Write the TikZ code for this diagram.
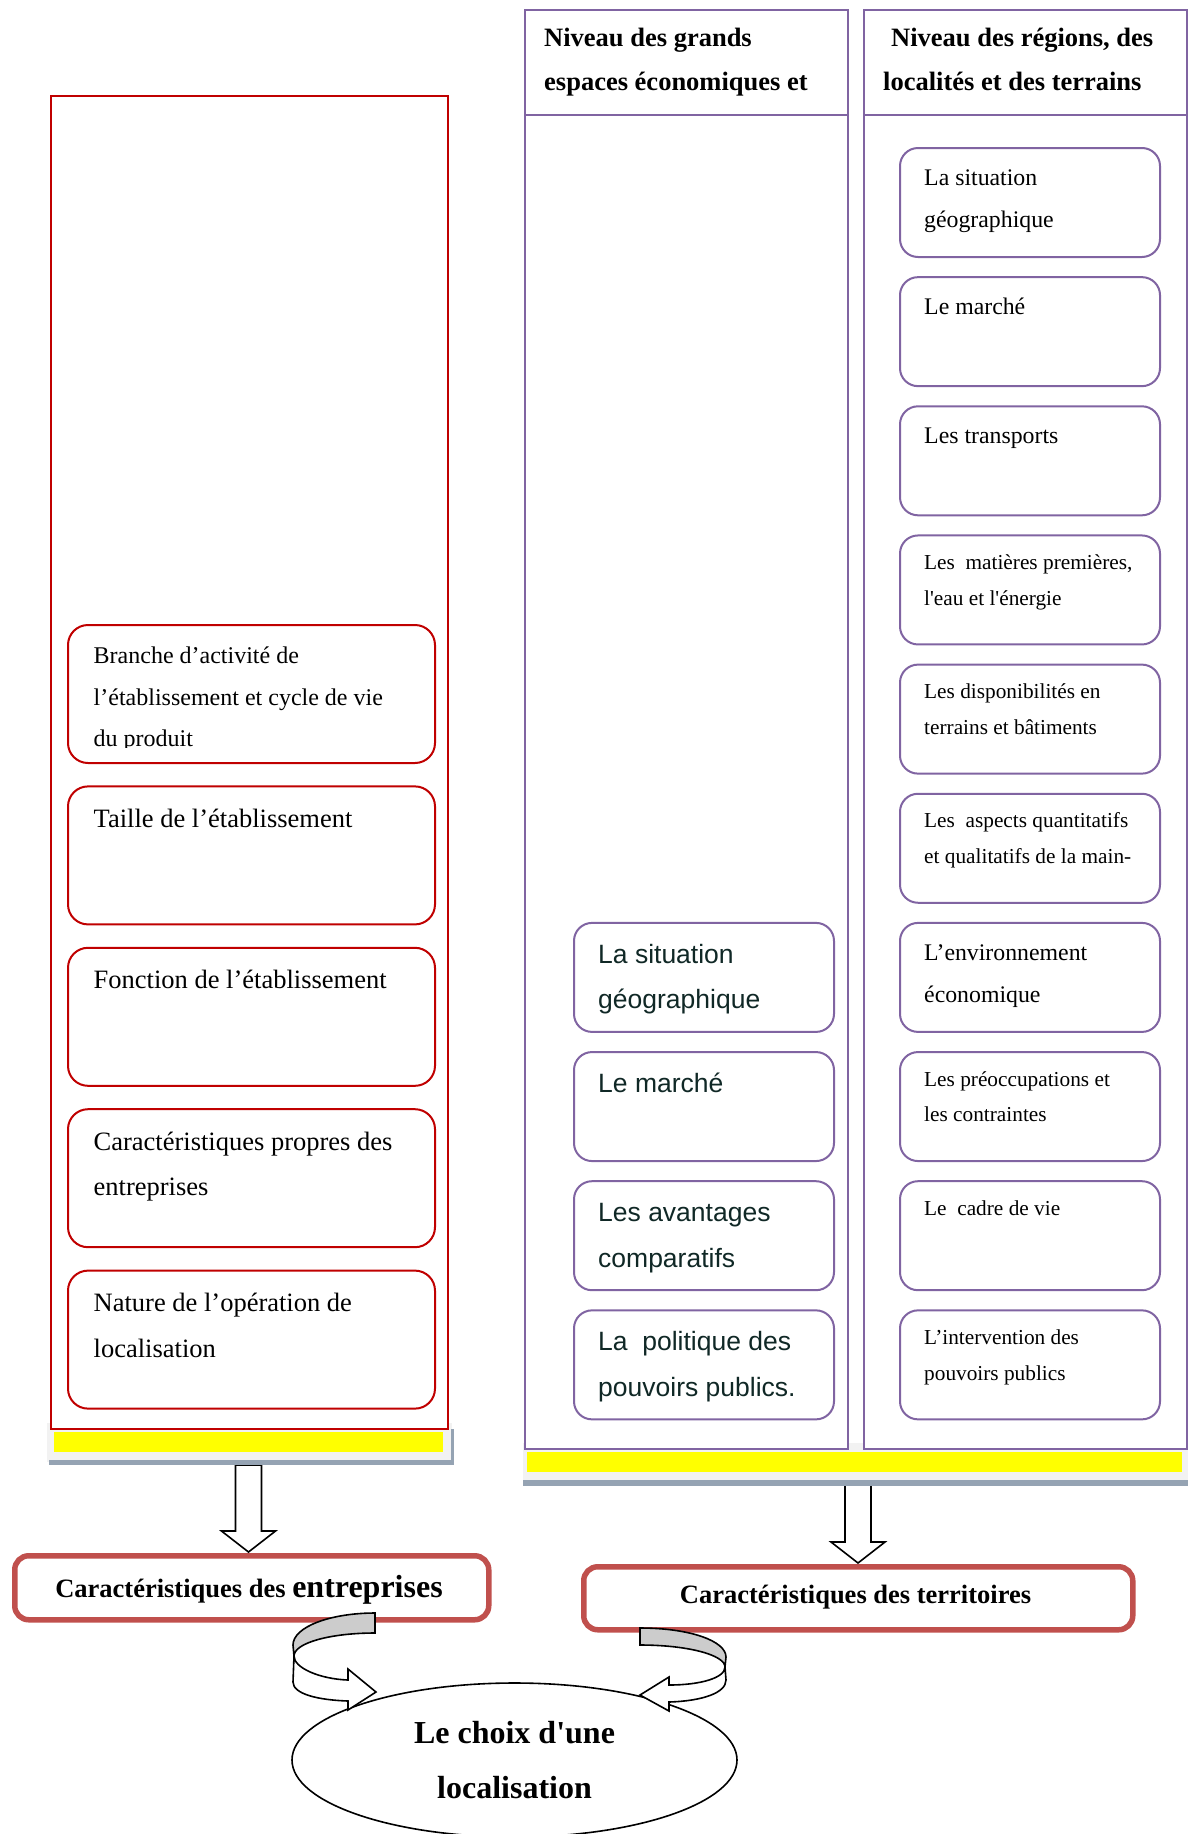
\documentclass[tikz,border=0pt]{standalone}
\usepackage{fontspec}
\setmainfont{Liberation Serif}
\newfontfamily\sansf{Liberation Sans}
\usetikzlibrary{shapes.geometric}
\definecolor{redc}{RGB}{192,0,0}
\definecolor{purp}{RGB}{128,100,162}
\definecolor{capred}{RGB}{192,80,77}
\definecolor{yell}{RGB}{255,255,0}
\definecolor{lgray}{RGB}{242,242,242}
\definecolor{dgray}{RGB}{149,163,179}
\definecolor{midtxt}{RGB}{16,40,38}
\definecolor{facegray}{RGB}{204,204,204}
\newcommand\sq{\textquotesingle}
\tikzset{
  lframe/.style={draw=redc, line width=2pt, fill=white, inner sep=0pt, anchor=north west, minimum width=397pt, minimum height=1333pt},
  colf/.style={draw=purp, line width=2pt, fill=white, inner sep=0pt, anchor=north west, minimum width=323pt, minimum height=1439pt},
  lbox/.style={draw=redc, line width=2pt, rounded corners=20pt, minimum width=367pt, minimum height=138pt, inner sep=0pt, anchor=north west},
  rbox/.style={draw=purp, line width=2pt, rounded corners=18pt, minimum width=260pt, minimum height=109pt, inner sep=0pt, anchor=north west},
  capbox/.style={draw=capred, line width=5.5pt, rounded corners=14pt, fill=white, inner sep=0pt, anchor=north west},
  ltxtA/.style={anchor=north west, inner sep=0pt, align=left, font=\fontsize{24}{41.7}\selectfont},
  ltxt/.style={anchor=north west, inner sep=0pt, align=left, font=\fontsize{26.5}{45.6}\selectfont},
  rtxtL/.style={anchor=north west, inner sep=0pt, align=left, font=\fontsize{23.8}{42}\selectfont},
  rtxtS/.style={anchor=north west, inner sep=0pt, align=left, font=\fontsize{21.3}{35.7}\selectfont},
  mtxt/.style={anchor=north west, inner sep=0pt, align=left, text=midtxt, font=\sansf\fontsize{26.5}{45.8}\selectfont},
  htxt/.style={inner sep=0pt, align=left, font=\bfseries\fontsize{26.5}{44}\selectfont},
  captxt/.style={inner sep=0pt, anchor=base, font=\bfseries\fontsize{26.5}{32}\selectfont},
  choixtxt/.style={inner sep=0pt, anchor=base, font=\bfseries\fontsize{32}{38}\selectfont},
  arrowline/.style={draw=black, line width=1.6pt, line join=miter},
}
\begin{document}
\begin{tikzpicture}[x=1pt,y=-1pt]
\useasboundingbox (0,0) rectangle (1188,1834);
% light gray strips under the frames
\fill[lgray] (47,1423) rectangle (452,1462);
\fill[lgray] (523,1443) rectangle (1188,1482);
% frames and columns
\node[lframe] (lf) at (50,95) {};
\node[colf] (mc) at (524,9) {};
\node[colf] (rc) at (863,9) {};
\draw[purp, line width=2pt] ([yshift=-106pt]mc.north west) -- ([yshift=-106pt]mc.north east);
\draw[purp, line width=2pt] ([yshift=-106pt]rc.north west) -- ([yshift=-106pt]rc.north east);
% yellow bars
\fill[yell] (54,1432) rectangle (443,1452);
\fill[yell] (527,1452) rectangle (1182,1472);
% headers
\node[htxt, anchor=north west] (hm) at (544,15.9) {\strut Niveau des grands\\espaces économiques et};
\node[htxt, anchor=base west] (hr1) at (891,46.7) {Niveau des régions, des};
\node[htxt, anchor=base west] (hr2) at (883,90.7) {localités et des terrains};
% left boxes
\node[lbox] (lb1) at (67,624) {};
\node[lbox] (lb2) at (67,785.4) {};
\node[lbox] (lb3) at (67,946.8) {};
\node[lbox] (lb4) at (67,1108.2) {};
\node[lbox] (lb5) at (67,1269.6) {};
\begin{scope}
\clip (60,620) rectangle (440,747);
\node[ltxtA] (lt1) at ([xshift=26.5pt,yshift=-10pt]lb1.north west) {\strut Branche d’activité de\\l’établissement et cycle de vie\\du produit};
\end{scope}
\node[ltxt] (lt2) at ([xshift=26.5pt,yshift=-10pt]lb2.north west) {\strut Taille de l’établissement};
\node[ltxt] (lt3) at ([xshift=26.5pt,yshift=-10pt]lb3.north west) {\strut Fonction de l’établissement};
\node[ltxt] (lt4) at ([xshift=26.5pt,yshift=-10pt]lb4.north west) {\strut Caractéristiques propres des\\entreprises};
\node[ltxt] (lt5) at ([xshift=26.5pt,yshift=-10pt]lb5.north west) {\strut Nature de l’opération de\\localisation};
% right boxes
\node[rbox] (rb1) at (899,147) {};
\node[rbox] (rb2) at (899,276.15) {};
\node[rbox] (rb3) at (899,405.3) {};
\node[rbox] (rb4) at (899,534.45) {};
\node[rbox] (rb5) at (899,663.6) {};
\node[rbox] (rb6) at (899,792.75) {};
\node[rbox] (rb7) at (899,921.9) {};
\node[rbox] (rb8) at (899,1051.05) {};
\node[rbox] (rb9) at (899,1180.2) {};
\node[rbox] (rb10) at (899,1309.35) {};
\node[rtxtL] (rt1) at ([xshift=25pt,yshift=-8.6pt]rb1.north west) {\strut La situation\\géographique};
\node[rtxtL] (rt2) at ([xshift=25pt,yshift=-8.6pt]rb2.north west) {\strut Le marché};
\node[rtxtL] (rt3) at ([xshift=25pt,yshift=-8.6pt]rb3.north west) {\strut Les transports};
\node[rtxtS] (rt4) at ([xshift=25pt,yshift=-10pt]rb4.north west) {\strut Les~ matières premières,\\l\sq eau et l\sq énergie};
\node[rtxtS] (rt5) at ([xshift=25pt,yshift=-10pt]rb5.north west) {\strut Les disponibilités en\\terrains et bâtiments};
\node[rtxtS] (rt6) at ([xshift=25pt,yshift=-10pt]rb6.north west) {\strut Les~ aspects quantitatifs\\et qualitatifs de la main-};
\node[rtxtL] (rt7) at ([xshift=25pt,yshift=-8.6pt]rb7.north west) {\strut L’environnement\\économique};
\node[rtxtS] (rt8) at ([xshift=25pt,yshift=-10pt]rb8.north west) {\strut Les préoccupations et\\les contraintes};
\node[rtxtS] (rt9) at ([xshift=25pt,yshift=-10pt]rb9.north west) {\strut Le~ cadre de vie};
\node[rtxtS] (rt10) at ([xshift=25pt,yshift=-10pt]rb10.north west) {\strut L’intervention des\\pouvoirs publics};
% middle boxes
\node[rbox] (mb1) at (573,921.9) {};
\node[rbox] (mb2) at (573,1051.05) {};
\node[rbox] (mb3) at (573,1180.2) {};
\node[rbox] (mb4) at (573,1309.35) {};
\node[mtxt] (mt1) at ([xshift=25pt,yshift=-8.9pt]mb1.north west) {\strut La situation\\géographique};
\node[mtxt] (mt2) at ([xshift=25pt,yshift=-8.9pt]mb2.north west) {\strut Le marché};
\node[mtxt] (mt3) at ([xshift=25pt,yshift=-8.9pt]mb3.north west) {\strut Les avantages\\comparatifs};
\node[mtxt] (mt4) at ([xshift=25pt,yshift=-8.9pt]mb4.north west) {\strut La~ politique des\\pouvoirs publics.};
% caption boxes
\node[capbox, minimum width=474pt, minimum height=64pt] (ent) at (12,1553) {};
\node[capbox, minimum width=549pt, minimum height=63pt] (ter) at (581,1564) {};
\node[captxt] (entT) at (249,1597) {Caractéristiques des {\fontsize{32}{38}\selectfont entreprises}};
\node[captxt] (terT) at (855.5,1603) {Caractéristiques des territoires};
% down block arrows
\draw[arrowline, fill=white] (235.5,1465) -- (261.5,1465) -- (261.5,1531) -- (275.5,1531) -- (248.5,1552) -- (221.5,1531) -- (235.5,1531) -- cycle;
\draw[arrowline, fill=white] (845,1482) -- (871,1482) -- (871,1542) -- (885,1542) -- (858,1563) -- (831,1542) -- (845,1542) -- cycle;
% dark shadow bars
\fill[dgray] (49,1460) rectangle (453.5,1465);
\fill[dgray] (450.5,1429) rectangle (453.5,1465);
\fill[dgray] (523,1480) rectangle (1188,1486);
% ellipse
\node[draw, ellipse, line width=1.6pt, fill=white, minimum width=445pt, minimum height=154pt, inner sep=0pt] (choix) at (514.5,1760) {};
\node[choixtxt] (choixA) at (514.5,1743) {Le choix d\sq une};
\node[choixtxt] (choixB) at (514.5,1798) {localisation};
% curved arrow left
\draw[arrowline, fill=facegray] (375,1613) .. controls (330,1613) and (293,1627) .. (293,1645) -- (294,1656) .. controls (294,1643) and (330,1633) .. (375,1633) -- cycle;
\draw[arrowline, fill=white] (294,1656) .. controls (294,1668) and (320,1679) .. (348,1680) -- (348,1669) -- (376,1692) -- (348,1710) -- (348,1701) .. controls (318,1700) and (293,1694) .. (293,1682) -- cycle;
% curved arrow right
\draw[arrowline, fill=facegray] (640,1628) .. controls (690,1628) and (726,1641) .. (726,1657) -- (725,1667) .. controls (725,1655) and (688,1645) .. (640,1645) -- cycle;
\draw[arrowline, fill=white] (725,1667) .. controls (725,1678) and (700,1685) .. (669,1685) -- (669,1677) -- (640,1695) -- (669,1711) -- (669,1702) .. controls (702,1701) and (726,1693) .. (726,1680) -- cycle;
\end{tikzpicture}
\end{document}
